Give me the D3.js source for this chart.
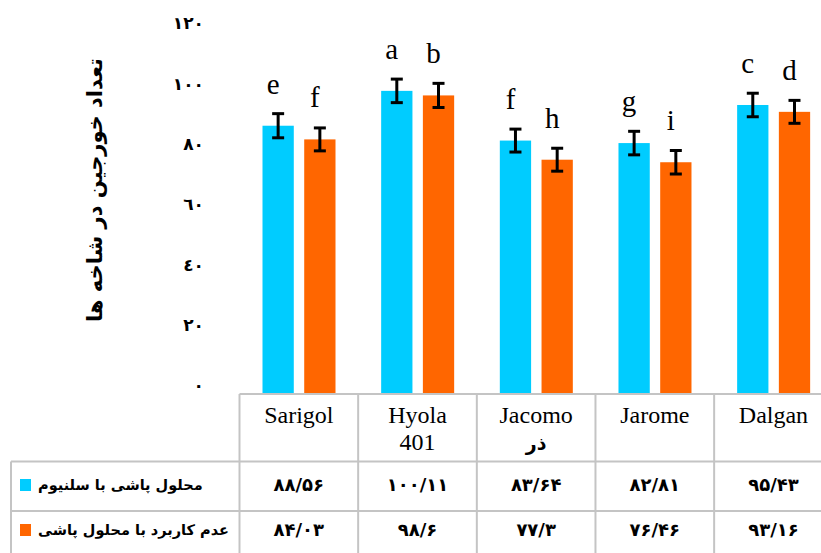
<!DOCTYPE html>
<html>
<head>
<meta charset="utf-8">
<script src="https://cdn.jsdelivr.net/npm/d3@7"></script>
<style>
  html, body { margin: 0; padding: 0; background: #fff; }
  svg { display: block; }
</style>
</head>
<body>
<svg id="chart" width="821" height="553"></svg>
<script>
// Cultivars (column header lines) and the two treatments
const categories = ["Sarigol", "Hyola 401", "Jacomo", "Jarome", "Dalgan"];
const categoryLines = [["Sarigol"], ["Hyola", "401"], ["Jacomo", "ذر"], ["Jarome"], ["Dalgan"]];
const seriesNames = ["محلول پاشی با سلنیوم", "عدم کاربرد با محلول پاشی"];
const seleniumValues = [88.56, 100.11, 83.64, 82.81, 95.43];
const controlValues = [84.03, 98.6, 77.3, 76.46, 93.16];
const seleniumErrors = [4.0, 3.9, 3.8, 3.9, 3.9];
const controlErrors = [3.8, 4.0, 3.8, 3.9, 3.8];
const seleniumLetters = ["e", "a", "f", "g", "c"];
const controlLetters = ["f", "b", "h", "i", "d"];
const yTicks = [0, 20, 40, 60, 80, 100, 120];
const yTitle = "تعداد خورجین در شاخه ها";
const colors = ["#00ccff", "#ff6600"];

const arabicDigits = "٠١٢٣٤٥٦٧٨٩";
const persianDigits = "۰۱۲۳۴۵۶۷۸۹";
const toDigits = (s, set) => String(s).replace(/[0-9]/g, d => set[+d]);
const persianNumber = v => toDigits(String(v).replace(".", "/"), persianDigits);

const series = [
  { name: seriesNames[0], values: seleniumValues, errors: seleniumErrors, letters: seleniumLetters, color: colors[0] },
  { name: seriesNames[1], values: controlValues, errors: controlErrors, letters: controlLetters, color: colors[1] }
];

const svg = d3.select("#chart");
const baseY = 393;
const tableTop = 394;

const x0 = d3.scaleBand().domain(categories).range([239.5, 832.8]).padding(0);
const x1 = d3.scaleBand().domain([0, 1]).range([23, 96]).paddingInner(0.25);
const y = d3.scaleLinear().domain([0, 120]).range([baseY, baseY - 120 * 3.018]);

// Y axis: labels only, Arabic-Indic digits
const yAxis = d3.axisLeft(y).tickValues(yTicks).tickSize(0).tickPadding(0)
  .tickFormat(v => toDigits(v, arabicDigits));
const gy = svg.append("g").attr("transform", "translate(204,0)").call(yAxis);
gy.select(".domain").remove();
gy.selectAll("text")
  .attr("font-family", "'DejaVu Sans', sans-serif")
  .attr("font-weight", "bold")
  .attr("font-size", 17)
  .attr("fill", "#000")
  .attr("dy", "-0.12em");

// Y axis title
svg.append("text")
  .attr("transform", "translate(96,190) rotate(-90)")
  .attr("text-anchor", "middle")
  .attr("dominant-baseline", "middle")
  .attr("font-family", "'DejaVu Sans', sans-serif")
  .attr("font-weight", "bold")
  .attr("font-size", 21)
  .text(yTitle);

// Bars, error bars and letters
series.forEach((s, si) => {
  const g = svg.append("g");
  const cx = c => x0(c) + x1(si) + x1.bandwidth() / 2;

  g.selectAll("rect").data(categories).join("rect")
    .attr("x", c => x0(c) + x1(si))
    .attr("width", x1.bandwidth())
    .attr("y", (c, i) => y(s.values[i]))
    .attr("height", (c, i) => baseY - y(s.values[i]))
    .attr("fill", s.color);

  const eb = g.selectAll("g.err").data(categories).join("g").attr("class", "err")
    .attr("stroke", "#000").attr("stroke-width", 3);
  eb.append("line")
    .attr("x1", cx).attr("x2", cx)
    .attr("y1", (c, i) => y(s.values[i] + s.errors[i]))
    .attr("y2", (c, i) => y(s.values[i] - s.errors[i]));
  eb.append("line")
    .attr("x1", c => cx(c) - 6).attr("x2", c => cx(c) + 6)
    .attr("y1", (c, i) => y(s.values[i] + s.errors[i]))
    .attr("y2", (c, i) => y(s.values[i] + s.errors[i]));
  eb.append("line")
    .attr("x1", c => cx(c) - 6).attr("x2", c => cx(c) + 6)
    .attr("y1", (c, i) => y(s.values[i] - s.errors[i]))
    .attr("y2", (c, i) => y(s.values[i] - s.errors[i]));

  g.selectAll("text.letter").data(categories).join("text").attr("class", "letter")
    .attr("x", c => cx(c) - 5)
    .attr("y", (c, i) => y(s.values[i]) - 32)
    .attr("text-anchor", "middle")
    .attr("font-family", "'Liberation Serif', 'Times New Roman', serif")
    .attr("font-size", 29)
    .text((c, i) => s.letters[i]);
});

// Data table
const gridColor = "#c4c4c4";
const tableLeft = 11;
const rowLines = [461.5, 511];
const grid = svg.append("g").attr("stroke", gridColor).attr("stroke-width", 2);
grid.append("line").attr("x1", x0.range()[0]).attr("x2", 821).attr("y1", tableTop).attr("y2", tableTop);
rowLines.forEach(ry => grid.append("line").attr("x1", tableLeft).attr("x2", 821).attr("y1", ry).attr("y2", ry));
grid.append("line").attr("x1", tableLeft).attr("x2", tableLeft).attr("y1", rowLines[0]).attr("y2", 553);
categories.forEach(c => grid.append("line")
  .attr("x1", x0(c)).attr("x2", x0(c)).attr("y1", tableTop).attr("y2", 553));

// Column headers
categories.forEach((c, i) => {
  const t = svg.append("text")
    .attr("x", x0(c) + x0.bandwidth() / 2)
    .attr("y", 423)
    .attr("text-anchor", "middle")
    .attr("font-family", "'Liberation Serif', 'Times New Roman', serif")
    .attr("font-size", 24);
  categoryLines[i].forEach((line, li) => {
    const isArabic = /[\u0600-\u06FF]/.test(line);
    t.append("tspan")
      .attr("x", x0(c) + x0.bandwidth() / 2)
      .attr("dy", li === 0 ? 0 : 27)
      .attr("font-family", isArabic ? "'DejaVu Sans', sans-serif" : null)
      .attr("font-weight", isArabic ? "bold" : null)
      .attr("font-size", isArabic ? 19 : null)
      .text(line);
  });
});

// Value rows with legend keys
const rowCenters = [486, 531];
series.forEach((s, si) => {
  const cy = rowCenters[si];
  svg.append("rect").attr("x", 20).attr("y", cy - 7).attr("width", 11).attr("height", 12).attr("fill", s.color);
  svg.append("text")
    .attr("x", 38).attr("y", cy)
    .attr("text-anchor", "start")
    .attr("dominant-baseline", "middle")
    .attr("font-family", "'DejaVu Sans', sans-serif")
    .attr("font-weight", "bold")
    .attr("font-size", 14.5)
    .text(s.name);
  svg.selectAll(null).data(categories).join("text")
    .attr("x", c => x0(c) + x0.bandwidth() / 2)
    .attr("y", cy)
    .attr("text-anchor", "middle")
    .attr("dominant-baseline", "middle")
    .attr("font-family", "'DejaVu Sans', sans-serif")
    .attr("font-weight", "bold")
    .attr("font-size", 18)
    .text((c, i) => persianNumber(s.values[i]));
});
</script>
</body>
</html>
